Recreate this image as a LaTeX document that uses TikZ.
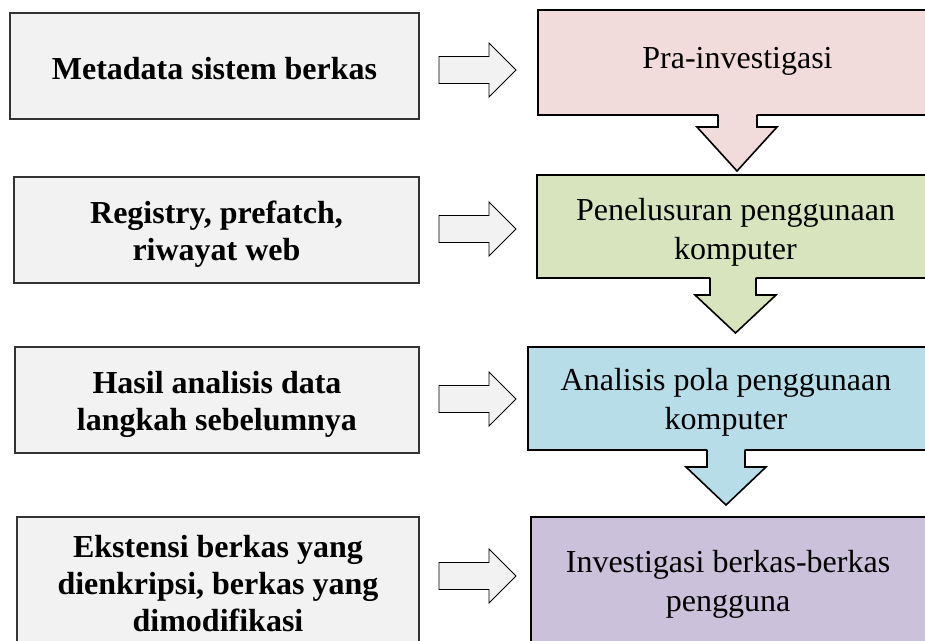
\documentclass[tikz,border=0pt]{standalone}
\usepackage{fontspec}
\setmainfont{LiberationSerif}[Extension=.ttf, UprightFont=*-Regular, BoldFont=*-Bold, ItalicFont=*-Italic, BoldItalicFont=*-BoldItalic]
\usetikzlibrary{calc}
\definecolor{lgray}{HTML}{F2F2F2}
\definecolor{pinkc}{HTML}{F2DCDB}
\definecolor{greenc}{HTML}{D7E4BD}
\definecolor{bluec}{HTML}{B7DEE8}
\definecolor{purplec}{HTML}{CCC1DA}
\begin{document}
\begin{tikzpicture}[x=1pt,y=-1pt,
  lbox/.style={draw=black!80, line width=1.2pt, fill=lgray, inner sep=0pt, outer sep=0pt},
  rbox/.style={draw=black, line width=2pt, inner sep=0pt, outer sep=0pt},
  ltext/.style={font=\fontsize{32}{37}\selectfont\bfseries, align=center, inner sep=0pt, anchor=north},
  rtext/.style={font=\fontsize{32}{39.5}\selectfont, align=center, inner sep=0pt, anchor=north},
  harrow/.style={draw=black, line width=0.9pt, fill=lgray, line join=miter},
  varrow/.style={draw=black, line width=1.6pt, line join=miter}]
\useasboundingbox (0,0) rectangle (925,640);
\clip (0,0) rectangle (925,640);

% left boxes
\node[lbox, minimum width=409pt, minimum height=106pt] (l1) at (214.5,66) {};
\node[lbox, minimum width=405pt, minimum height=106pt] (l2) at (216.5,230) {};
\node[lbox, minimum width=404pt, minimum height=106pt] (l3) at (217,400) {};
\node[lbox, minimum width=402pt, minimum height=140pt] (l4) at (218,587) {};

\node[ltext] (l1t) at (214.5,57.4) {Metadata sistem berkas};
\node[ltext] (l2t) at (216.5,201.1) {Registry, prefatch,\\riwayat web};
\node[ltext] (l3t) at (217,371.1) {Hasil analisis data\\langkah sebelumnya};
\node[ltext] (l4t) at (218,535.1) {Ekstensi berkas yang\\dienkripsi, berkas yang\\dimodifikasi};

% right boxes
\node[rbox, fill=pinkc, minimum width=422pt, minimum height=105pt] (r1) at (749,62.5) {};
\node[rbox, fill=greenc, minimum width=423pt, minimum height=103pt] (r2) at (748.5,226.5) {};
\node[rbox, fill=bluec, minimum width=432pt, minimum height=103pt] (r3) at (744,398.5) {};
\node[rbox, fill=purplec, minimum width=429pt, minimum height=163pt] (r4) at (745.5,598.5) {};

% down block arrows
\fill[pinkc] (718,112) -- (718,127) -- (697,127) -- (737,171) -- (777,127) -- (757,127) -- (757,112) -- cycle;
\draw[varrow] (718,114.5) -- (718,127) -- (697,127) -- (737,171) -- (777,127) -- (757,127) -- (757,114.5);

\fill[greenc] (710,275) -- (710,295) -- (695,295) -- (735.5,333) -- (776,295) -- (756,295) -- (756,275) -- cycle;
\draw[varrow] (710,277.5) -- (710,295) -- (695,295) -- (735.5,333) -- (776,295) -- (756,295) -- (756,277.5);

\fill[bluec] (707,447) -- (707,467) -- (686,467) -- (726,505) -- (766,467) -- (745,467) -- (745,447) -- cycle;
\draw[varrow] (707,449.5) -- (707,467) -- (686,467) -- (726,505) -- (766,467) -- (745,467) -- (745,449.5);

\node[rtext] (r1t) at (737.5,47.4) {Pra-investigasi};
\node[rtext] (r2t) at (735.5,198) {Penelusuran penggunaan\\komputer};
\node[rtext] (r3t) at (726,368) {Analisis pola penggunaan\\komputer};
\node[rtext] (r4t) at (728,550) {Investigasi berkas-berkas\\pengguna};

% horizontal block arrows
\foreach \yc in {70,229,399,576}{
  \draw[harrow] (439,\yc-13.5) -- (489,\yc-13.5) -- (489,\yc-27) -- (516,\yc) -- (489,\yc+27) -- (489,\yc+13.5) -- (439,\yc+13.5) -- cycle;
}
\end{tikzpicture}
\end{document}
